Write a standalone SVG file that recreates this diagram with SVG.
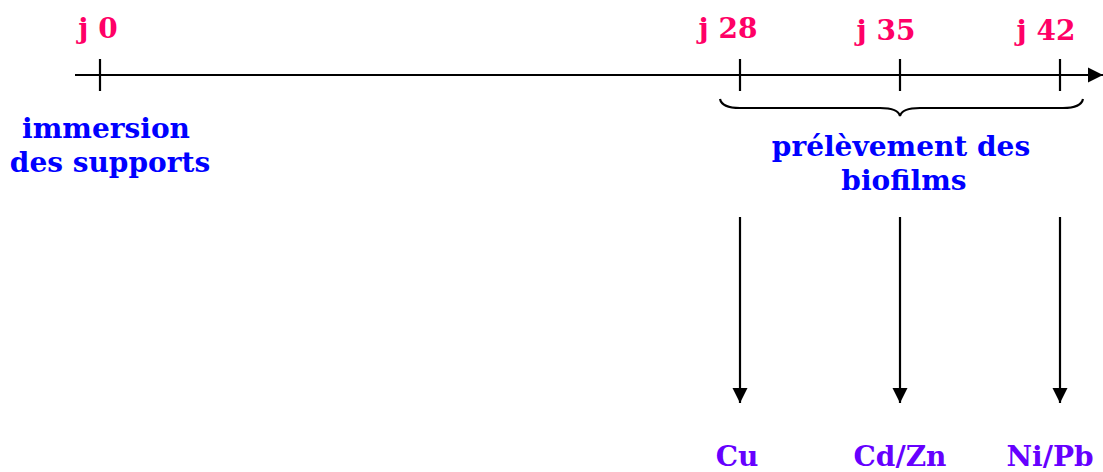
<svg xmlns="http://www.w3.org/2000/svg" width="1103" height="472" viewBox="0 0 1103 472">
<style>
text{font-family:"DejaVu Serif","Liberation Serif",serif;font-weight:bold;font-size:28px;text-anchor:middle}
.day{fill:#FF0066}
.lbl{fill:#0000FF}
.metal{fill:#6600FF}
.ln{stroke:#000;stroke-width:2.2;fill:none}
</style>
<defs>
<marker id="ah" viewBox="0 0 10 10" refX="10" refY="5" markerWidth="7" markerHeight="7" markerUnits="strokeWidth" orient="auto">
<path d="M0,0 L10,5 L0,10 Z" fill="#000"/>
</marker>
</defs>
<g id="connectors">
<line class="ln" x1="75" y1="75" x2="1103" y2="75" marker-end="url(#ah)"/>
<line class="ln" x1="100" y1="59" x2="100" y2="91"/>
<line class="ln" x1="740" y1="59" x2="740" y2="91"/>
<line class="ln" x1="900" y1="59" x2="900" y2="91"/>
<line class="ln" x1="1060" y1="59" x2="1060" y2="91"/>
<path class="ln" d="M720,99 Q722,108 740,108 L880,108 Q898,108 900,116 Q902,108 920,108 L1063,108 Q1081,108 1083,99"/>
<line class="ln" x1="740" y1="217" x2="740" y2="403" marker-end="url(#ah)"/>
<line class="ln" x1="900" y1="217" x2="900" y2="403" marker-end="url(#ah)"/>
<line class="ln" x1="1060" y1="217" x2="1060" y2="403" marker-end="url(#ah)"/>
</g>
<g id="day0"><text class="day" x="98" y="38">j 0</text></g>
<g id="day28"><text class="day" x="728" y="38">j 28</text></g>
<g id="day35"><text class="day" x="886" y="40">j 35</text></g>
<g id="day42"><text class="day" x="1046" y="40">j 42</text></g>
<g id="immersion">
<text class="lbl" x="106" y="138">immersion</text>
<text class="lbl" x="110" y="172">des supports</text>
</g>
<g id="prelevement">
<text class="lbl" x="901" y="156">prélèvement des</text>
<text class="lbl" x="904" y="190">biofilms</text>
</g>
<g id="cu"><text class="metal" x="737" y="466">Cu</text></g>
<g id="cdzn"><text class="metal" x="900" y="466">Cd/Zn</text></g>
<g id="nipb"><text class="metal" x="1050" y="466">Ni/Pb</text></g>
</svg>
